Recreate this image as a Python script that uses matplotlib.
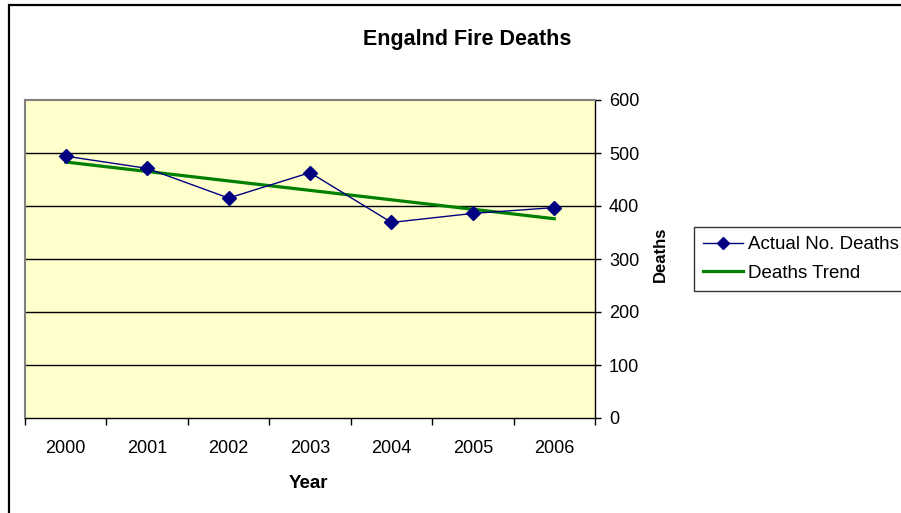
import matplotlib
matplotlib.use("Agg")
import matplotlib.pyplot as plt
from matplotlib.patches import Rectangle
from matplotlib.lines import Line2D

plt.rcParams['font.family'] = ['Liberation Sans', 'DejaVu Sans']

# Dados
anos = ["2000", "2001", "2002", "2003", "2004", "2005", "2006"]
mortes = [494, 471, 415, 463, 369, 386, 397]
# linha de tendencia (inicio e fim)
tendencia_idx = [0, 6]
tendencia = [483, 376]

W, H = 901, 513
fig = plt.figure(figsize=(W / 100, H / 100), dpi=100)

def fx(px):
    return px / W

def fy(py):
    return 1 - py / H

# Borda externa do grafico
fig.patches.append(Rectangle((fx(8.5), fy(600)), 1.2, fy(4.5) - fy(600), transform=fig.transFigure,
                             fill=False, edgecolor='black', linewidth=1.6, zorder=0))

ax = fig.add_axes([fx(25), fy(418), fx(595) - fx(25), fy(100) - fy(418)])
ax.set_facecolor('#FFFFCC')

x = list(range(len(anos)))
ax.plot(x, mortes, color='#000080', linewidth=1, marker='D', markersize=6.8,
        markerfacecolor='#000080', markeredgecolor='#000080', zorder=3)
ax.plot(tendencia_idx, tendencia, color='#008000', linewidth=2.3, zorder=2)

ax.set_xlim(-0.5, len(anos) - 0.5)
ax.set_ylim(0, 600)

# Eixo Y a direita
ax.yaxis.tick_right()
ax.set_yticks(range(0, 601, 100))
ax.tick_params(axis='y', direction='out', length=4, width=1, pad=6, labelsize=13, color='black')
for y in range(100, 600, 100):
    ax.axhline(y, color='black', linewidth=1, zorder=1)

# Eixo X com categorias
ax.set_xticks([i - 0.5 for i in range(len(anos) + 1)])
ax.set_xticklabels([])
ax.set_xticks(x, minor=True)
ax.set_xticklabels(anos, minor=True)
ax.tick_params(axis='x', which='major', direction='out', length=5, width=1, color='black')
ax.tick_params(axis='x', which='minor', length=0, pad=16, labelsize=13)

for lado in ['top', 'left']:
    ax.spines[lado].set_color('#808080')
    ax.spines[lado].set_linewidth(1.5)
for lado in ['right', 'bottom']:
    ax.spines[lado].set_color('black')
    ax.spines[lado].set_linewidth(1)

fig.text(fx(467), fy(40), "Engalnd Fire Deaths", ha='center', va='center',
         fontsize=15.5, fontweight='bold')
fig.text(fx(308), fy(483), "Year", ha='center', va='center', fontsize=13.5, fontweight='bold')
fig.text(fx(660), fy(254), "Deaths", ha='center', va='center', rotation=90,
         fontsize=12, fontweight='bold')

handles = [
    Line2D([], [], color='#000080', linewidth=1, marker='D', markersize=6),
    Line2D([], [], color='#008000', linewidth=2.3),
]
leg = fig.legend(handles, ["Actual No. Deaths", "Deaths Trend"], loc='upper left',
                 bbox_to_anchor=(fx(694), fy(227)), fontsize=13.5, frameon=True,
                 fancybox=False, edgecolor='black', handlelength=2.1, handletextpad=0.28,
                 borderpad=0.5, labelspacing=0.6, borderaxespad=0)
leg.get_frame().set_linewidth(1)

fig.savefig("out.png", dpi=100)
